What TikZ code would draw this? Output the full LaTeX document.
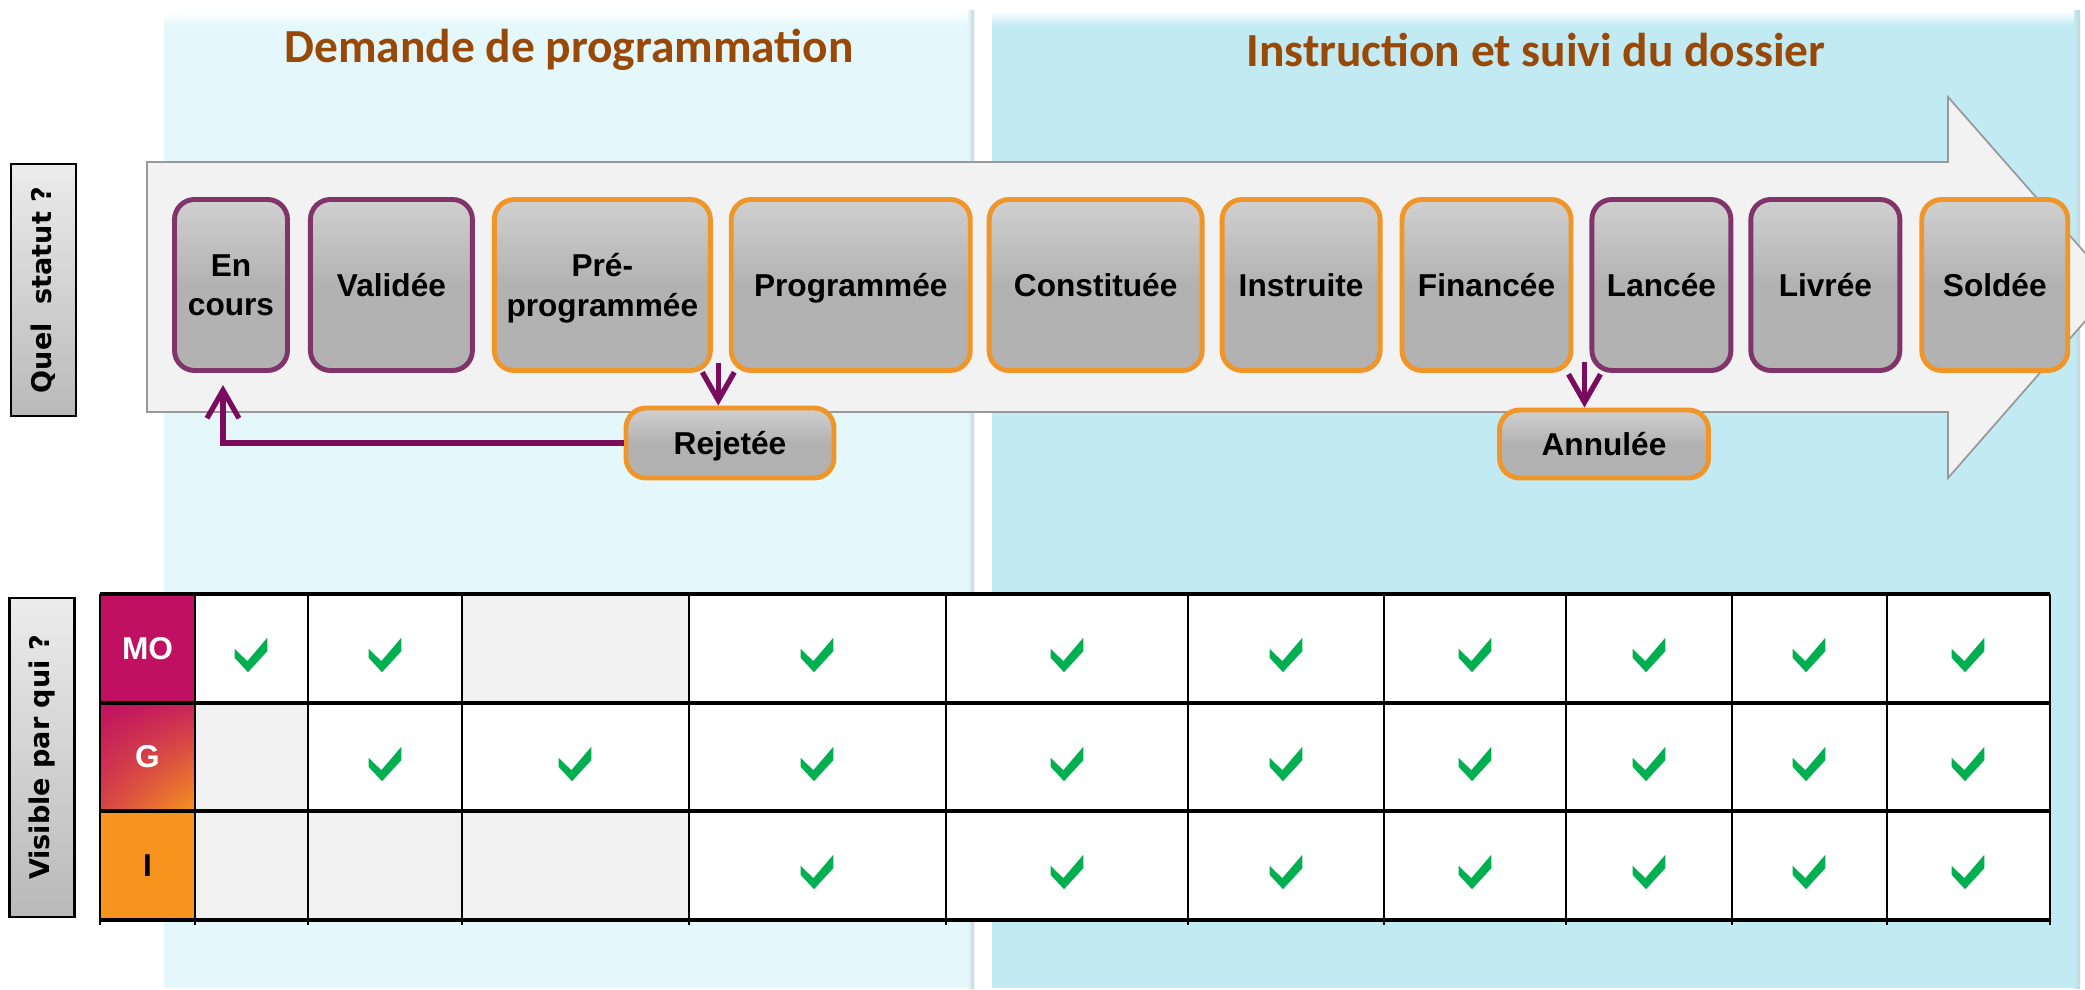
\documentclass[tikz,border=0pt]{standalone}
\usepackage{fontspec}
\setmainfont{Liberation Sans}
\newfontfamily\titlefont{Carlito}
\newfontfamily\sidefont{DejaVu Sans}
\usepackage{tikz}
\usetikzlibrary{arrows.meta,calc,positioning,shadings}
\definecolor{paneA}{RGB}{228,248,252}
\definecolor{paneB}{RGB}{194,234,243}
\definecolor{paneedge}{RGB}{196,212,218}
\definecolor{titlebrown}{RGB}{152,72,7}
\definecolor{boxgray}{RGB}{178,178,178}
\definecolor{boxtop}{RGB}{208,208,208}
\definecolor{rimpurple}{RGB}{128,52,106}
\definecolor{rimorange}{RGB}{240,150,40}
\definecolor{flowpurple}{RGB}{122,12,94}
\definecolor{hdmag}{RGB}{192,16,98}
\definecolor{hdorange}{RGB}{247,148,30}
\definecolor{cellgray}{RGB}{241,241,241}
\definecolor{okgreen}{RGB}{0,176,80}
\tikzset{
  status/.style={rounded corners=2mm, line width=1.4pt, minimum height=17.1mm, inner sep=1mm,
    align=center, text depth=0pt, font=\bfseries\fontsize{9}{11.3}\selectfont,
    top color=boxtop, bottom color=boxgray, middle color=boxgray},
  pstat/.style={status, draw=rimpurple},
  ostat/.style={status, draw=rimorange},
  flow/.style={draw=flowpurple, line width=1.5pt, -{Straight Barb[length=2.8mm,width=3.2mm]}},
  title/.style={font=\titlefont\bfseries\fontsize{13.5}{16}\selectfont, text=titlebrown},
  side/.style={draw=black, line width=0.6pt, rotate=90, minimum height=6.5mm,
    font=\sidefont\bfseries\fontsize{7.7}{9}\selectfont, top color=gray!15, bottom color=gray!55},
  hdtxt/.style={font=\bfseries\fontsize{9}{11}\selectfont},
  okmark/.pic={\fill[okgreen] (-16.4,-6.2) -- (-3.7,6.2) -- (16.3,-17.2) -- (16.3,-3.8)
    -- (-3,17.2) -- (-16.4,2.8) -- cycle;}
}
\begin{document}
\begin{tikzpicture}[x=0.1mm, y=-0.1mm]
    \clip (0,0) rectangle (2085,990);

    % Phase panels
    \fill[paneA] (164,11) rectangle (974,988);
    \fill[paneB] (992,11) rectangle (2080,988);
    \shade[top color=white, bottom color=paneA] (164,11) rectangle (974,26);
    \shade[top color=white, bottom color=paneB] (992,11) rectangle (2080,26);
    \shade[left color=paneA, right color=paneedge] (968,11) rectangle (974,988);
    \shade[left color=paneB, right color=paneedge] (2074,11) rectangle (2080,988);
    \node[title] (t1) at (569,50) {Demande de programmation};
    \node[title] (t2) at (1536,50) {Instruction et suivi du dossier};

    % Big process arrow
    \filldraw[fill=gray!10, draw=gray!80, line width=0.5pt]
      (147,162) -- (1948,162) -- (1948,97) -- (2115,287) -- (1948,478)
      -- (1948,412) -- (147,412) -- cycle;

    % Side labels
    \node[side, minimum width=25.2mm] (qstat) at (43.5,290) {Quel\ \ statut ?};
    \node[side, minimum width=31.9mm] (qvis) at (42,757.5) {Visible par qui ?};

    % Status chain
    \node[pstat, minimum width=11.3mm] (encours) at (231,285) {En\\cours};
    \node[pstat, minimum width=16.2mm, right=1.8mm of encours] (validee) {Validée};
    \node[ostat, minimum width=21.6mm, right=1.7mm of validee] (pre) {Pré-\\programmée};
    \node[ostat, minimum width=23.9mm, right=1.6mm of pre] (prog) {Programmée};
    \node[ostat, minimum width=21.3mm, right=1.4mm of prog] (const) {Constituée};
    \node[ostat, minimum width=15.8mm, right=1.5mm of const] (instr) {Instruite};
    \node[ostat, minimum width=16.9mm, right=1.7mm of instr] (fin) {Financée};
    \node[pstat, minimum width=13.9mm, right=1.6mm of fin] (lancee) {Lancée};
    \node[pstat, minimum width=14.9mm, right=1.5mm of lancee] (livree) {Livrée};
    \node[ostat, minimum width=14.6mm, right=1.7mm of livree] (soldee) {Soldée};

    % Side exits
    \node[ostat, minimum width=20.8mm, minimum height=7mm] (rejetee) at (730,443) {Rejetée};
    \node[ostat, minimum width=20.9mm, minimum height=6.8mm] (annulee) at (1604,444) {Annulée};

    \draw[flow] ([xshift=0.55mm,yshift=1mm]pre.south east) coordinate (r0) -- (r0 |- rejetee.north);
    \draw[flow] (rejetee.west) -| ([xshift=-0.8mm,yshift=-1.2mm]encours.south);
    \draw[flow] ([xshift=-0.5mm,yshift=1.1mm]lancee.south west) coordinate (a0) -- (a0 |- annulee.north);

    % Visibility table
    \fill[white] (195,594) rectangle (2050,920);
    \fill[cellgray] (462,594) rectangle (689,703);
    \fill[cellgray] (195,703) rectangle (308,811);
    \fill[cellgray] (195,811) rectangle (689,920);
    \fill[hdmag] (100,594) rectangle (195,703);
    \shade[upper left=hdmag, upper right=hdmag!85!hdorange, lower left=hdmag!60!hdorange,
      lower right=hdorange] (100,703) rectangle (195,811);
    \fill[hdorange] (100,811) rectangle (195,920);
    \node[hdtxt, text=white] (mo) at (147.5,648.5) {MO};
    \node[hdtxt, text=white] (g) at (147.5,757) {G};
    \node[hdtxt] (i) at (147.5,865.5) {I};
    \foreach \y in {594,703,811,920}
      \draw[line width=0.9pt] (100,\y) -- (2050,\y);
    \foreach \x in {100,195,308,462,689,946,1188,1384,1566,1732,1887,2050}
      \draw[line width=0.6pt] (\x,594) -- (\x,925);

    \foreach \cx in {251,385,817,1067,1286,1475,1649,1809,1968}
      \pic at (\cx,655) {okmark};
    \foreach \cx in {385,575,817,1067,1286,1475,1649,1809,1968}
      \pic at (\cx,764) {okmark};
    \foreach \cx in {817,1067,1286,1475,1649,1809,1968}
      \pic at (\cx,872) {okmark};

\end{tikzpicture}
\end{document}
